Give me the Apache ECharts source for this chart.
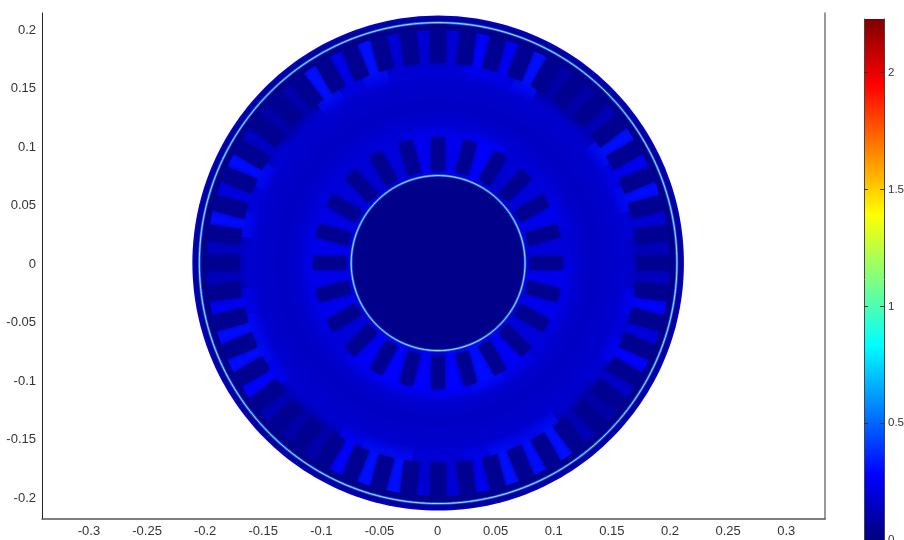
<!DOCTYPE html>
<html>
<head>
<meta charset="utf-8">
<style>
  html, body { margin: 0; padding: 0; background: #fff; overflow: hidden; }
  #chart { width: 904px; height: 540px; filter: blur(0.5px); }
</style>
</head>
<body>
<div id="chart"></div>
<script src="https://cdn.jsdelivr.net/npm/echarts@6/dist/echarts.min.js"></script>
<script>
const xTicks = [-0.3, -0.25, -0.2, -0.15, -0.1, -0.05, 0, 0.05, 0.1, 0.15, 0.2, 0.25, 0.3];
const yTicks = [-0.2, -0.15, -0.1, -0.05, 0, 0.05, 0.1, 0.15, 0.2];
const barTicks = [0, 0.5, 1, 1.5, 2];
const barRange = [0, 2.23];
const jetColors = ['#00007f', '#0000ff', '#0080ff', '#00ffff', '#80ff80', '#ffff00', '#ff8000', '#ff0000', '#7f0000'];

// field level of the filled discs, biggest first (stator rim and yoke)
const statorRadius = [0.2115, 0.2095, 0.2035, 0.199, 0.167, 0.163, 0.158, 0.15, 0.14, 0.13, 0.125, 0.12, 0.115];
const statorField = [0.14, 0.05, 0.025, 0.15, 0.19, 0.18, 0.17, 0.16, 0.15, 0.16, 0.17, 0.18, 0.19];
// field in the 48 stator teeth, counter clockwise from 3.75 deg
const statorTeeth = [
  0.13, 0.19, 0.3, 0.25, 0.31, 0.12, 0.09, 0.09, 0.31, 0.25, 0.28, 0.19,
  0.19, 0.19, 0.31, 0.23, 0.31, 0.1, 0.09, 0.15, 0.3, 0.21, 0.3, 0.14,
  0.13, 0.25, 0.3, 0.3, 0.28, 0.12, 0.09, 0.1, 0.28, 0.31, 0.31, 0.19,
  0.19, 0.25, 0.31, 0.3, 0.31, 0.12, 0.09, 0.16, 0.28, 0.21, 0.28, 0.14
];
// field in the 24 inner teeth, counter clockwise from 7.5 deg
const innerTeeth = [
  0.2, 0.24, 0.2, 0.18, 0.27, 0.24, 0.24, 0.2, 0.18, 0.2, 0.22, 0.24,
  0.24, 0.24, 0.2, 0.26, 0.28, 0.27, 0.28, 0.3, 0.26, 0.2, 0.24, 0.24
];
const slotField = 0.04;
const rotorRadius = [0.0765, 0.0735];
const rotorField = [0.1, 0.025];
const glintRadius = [0.2055, 0.0748];

const DISC = 0;
const SLOT = 1;
const OUTER_TOOTH = 2;
const INNER_TOOTH = 3;

const fieldData = [];
statorRadius.forEach((r, i) => fieldData.push([0, r, 0, 180, statorField[i], DISC]));
statorTeeth.forEach((v, i) => fieldData.push([0.158, 0.199, 3.75 + 7.5 * i, 3.75, v, OUTER_TOOTH]));
statorTeeth.forEach((v, i) => fieldData.push([0.171, 0.1995, 7.5 * i, 0.0068, slotField, SLOT]));
innerTeeth.forEach((v, i) => fieldData.push([0.0765, 0.118, 7.5 + 15 * i, 7.5, v, INNER_TOOTH]));
innerTeeth.forEach((v, i) => fieldData.push([0.079, 0.1075, 15 * i, 0.0058, slotField, SLOT]));
rotorRadius.forEach((r, i) => fieldData.push([0, r, 0, 180, rotorField[i], DISC]));

const cx = 0.0005;
const cy = -0.0005;

function polar(api, r, deg) {
  const a = deg * Math.PI / 180;
  return api.coord([cx + r * Math.cos(a), cy + r * Math.sin(a)]);
}

function circlePoints(api, r) {
  const pts = [];
  for (let d = 0; d < 360; d += 1.5) pts.push(polar(api, r, d));
  return pts;
}

// teeth fade out into the yoke instead of ending on a hard arc
function toothFill(api, color, r0, r1, mid, kind) {
  const from = polar(api, r0, mid);
  const to = polar(api, r1, mid);
  const clear = echarts.color.modifyAlpha(color, 0);
  const stops = kind === OUTER_TOOTH
    ? [{ offset: 0, color: clear }, { offset: 0.35, color: color }, { offset: 1, color: color }]
    : [{ offset: 0, color: color }, { offset: 0.75, color: color }, { offset: 1, color: clear }];
  return new echarts.graphic.LinearGradient(from[0], from[1], to[0], to[1], stops, true);
}

function renderField(params, api) {
  const r0 = api.value(0);
  const r1 = api.value(1);
  const mid = api.value(2);
  const half = api.value(3);
  const kind = api.value(5);
  const color = api.visual('color');
  let points = [];
  let fill = color;
  if (kind === SLOT) {
    // slots have parallel sides
    const a = mid * Math.PI / 180;
    const ux = Math.cos(a), uy = Math.sin(a);
    const at = (r, w) => api.coord([cx + r * ux - w * uy, cy + r * uy + w * ux]);
    points = [at(r0, -half), at(r1, -half), at(r1, half), at(r0, half)];
  } else if (kind === DISC) {
    points = circlePoints(api, r1);
  } else {
    for (let d = -half; d <= half; d += 1.5) points.push(polar(api, r1, mid + d));
    for (let d = half; d >= -half; d -= 1.5) points.push(polar(api, r0, mid + d));
    fill = toothFill(api, color, r0, r1, mid, kind);
  }
  return {
    type: 'polygon',
    shape: { points: points },
    style: {
      fill: fill,
      shadowBlur: kind === SLOT ? 4 : 0,
      shadowColor: color
    }
  };
}

function renderGlint(params, api) {
  const pts = circlePoints(api, api.value(0));
  return {
    type: 'group',
    children: [
      { type: 'polygon', shape: { points: pts }, style: { fill: 'none', stroke: '#1a60e8', lineWidth: 2.6 } },
      { type: 'polygon', shape: { points: pts }, style: { fill: 'none', stroke: '#a8dcff', lineWidth: 1 } }
    ]
  };
}

// colour bar: one tall rect on its own axes, filled with the jet ramp
function renderBar(params, api) {
  const low = api.coord([0, api.value(0)]);
  const high = api.coord([1, api.value(1)]);
  const stops = jetColors.map((c, i) => ({ offset: i / (jetColors.length - 1), color: c }));
  return {
    type: 'rect',
    shape: { x: low[0], y: high[1], width: high[0] - low[0], height: low[1] - high[1] },
    style: { fill: new echarts.graphic.LinearGradient(0, 1, 0, 0, stops) }
  };
}

const labelFont = { fontFamily: '"Liberation Sans", Arial, sans-serif', fontSize: 13, color: '#333' };

const chart = echarts.init(document.getElementById('chart'));
chart.setOption({
  animation: false,
  backgroundColor: '#fff',
  grid: [
    { left: 42, right: 79, top: 13, bottom: 21, outerBoundsMode: 'none' },
    // the bottom label runs off the page in the picture too, so don't let the grid shrink
    { left: 864, right: 20, top: 19, bottom: 0, outerBoundsMode: 'none' }
  ],
  xAxis: [
    {
      type: 'value', gridIndex: 0, min: -0.3404, max: 0.3334, position: 'bottom',
      axisLine: { onZero: false, lineStyle: { color: '#555', width: 1.5 } },
      axisTick: { show: false },
      splitLine: { show: false },
      axisLabel: Object.assign({ customValues: xTicks, margin: 6 }, labelFont)
    },
    { type: 'value', gridIndex: 1, min: 0, max: 1, show: false }
  ],
  yAxis: [
    {
      type: 'value', gridIndex: 0, min: -0.2192, max: 0.2132, position: 'left',
      axisLine: { show: true, onZero: false, lineStyle: { color: '#222', width: 1 } },
      axisTick: { show: false },
      splitLine: { show: false },
      axisLabel: Object.assign({
        customValues: yTicks,
        margin: 6,
        formatter: (v) => '{t|' + v + '}',
        rich: { t: Object.assign({ padding: [3, 0, 0, 0] }, labelFont) }
      }, labelFont)
    },
    {
      type: 'value', gridIndex: 0, min: -0.2192, max: 0.2132, position: 'right',
      axisLine: { show: true, onZero: false, lineStyle: { color: '#777', width: 1.5 } },
      axisTick: { show: false },
      splitLine: { show: false },
      axisLabel: { show: false }
    },
    {
      type: 'value', gridIndex: 1, min: 0, max: 2.23, position: 'left', z: 6,
      axisLine: { show: true, onZero: false, lineStyle: { color: '#444', width: 1 } },
      axisTick: { show: true, inside: true, length: 4, customValues: barTicks, lineStyle: { color: '#333' } },
      splitLine: { show: false },
      axisLabel: { show: false }
    },
    {
      type: 'value', gridIndex: 1, min: 0, max: 2.23, position: 'right', z: 6,
      axisLine: { show: true, onZero: false, lineStyle: { color: '#444', width: 1 } },
      axisTick: { show: true, inside: true, length: 4, customValues: barTicks, lineStyle: { color: '#333' } },
      splitLine: { show: false },
      axisLabel: Object.assign({ customValues: barTicks, margin: 4, align: 'left' }, labelFont, { fontSize: 11.5 })
    }
  ],
  visualMap: {
    type: 'continuous',
    show: false,
    min: 0,
    max: 2.23,
    seriesIndex: 0,
    dimension: 4,
    inRange: { color: jetColors }
  },
  series: [
    {
      name: 'field',
      type: 'custom',
      xAxisIndex: 0,
      yAxisIndex: 0,
      silent: true,
      renderItem: renderField,
      data: fieldData
    },
    {
      name: 'air gap',
      type: 'custom',
      xAxisIndex: 0,
      yAxisIndex: 0,
      silent: true,
      renderItem: renderGlint,
      data: glintRadius.map((r) => [r])
    },
    {
      name: 'colour bar',
      type: 'custom',
      xAxisIndex: 1,
      yAxisIndex: 2,
      silent: true,
      renderItem: renderBar,
      encode: { y: [0, 1] },
      data: [barRange]
    }
  ]
});
</script>
</body>
</html>
